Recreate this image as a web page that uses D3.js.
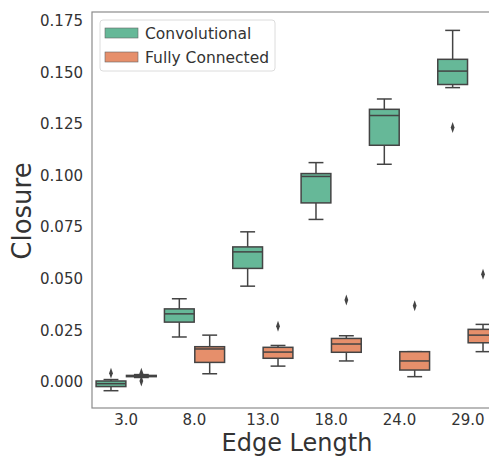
<!DOCTYPE html>
<html><head><meta charset="utf-8">
<script src="https://cdn.jsdelivr.net/npm/d3@7/dist/d3.min.js"></script>
<style>body{margin:0;background:#fff}svg{display:block}text{font-family:"DejaVu Sans",sans-serif;fill:#333}</style>
</head><body><svg id="c" width="489" height="456"></svg>
<script>
const categories = ["3.0","8.0","13.0","18.0","24.0","29.0"];
const seriesNames = ["Convolutional","Fully Connected"];
const yTicks = [0,0.025,0.05,0.075,0.1,0.125,0.15,0.175];
// box stats per category: [whiskerLow, q1, median, q3, whiskerHigh]
const convStats = [
  [-0.0042,-0.0022,-0.0008,0.0005,0.0012],
  [0.0218,0.0290,0.0330,0.0354,0.0403],
  [0.0464,0.0550,0.0630,0.0654,0.0727],
  [0.0787,0.0867,0.0995,0.1009,0.1062],
  [0.1054,0.1146,0.1290,0.1320,0.1370],
  [0.1425,0.1440,0.1505,0.1562,0.1702]
];
const convOutliers = [[0.0043],[],[],[],[],[0.1232]];
const fcStats = [
  [0.0022,0.0026,0.0029,0.0032,0.0036],
  [0.0040,0.0095,0.0160,0.0171,0.0227],
  [0.0077,0.0115,0.0145,0.0168,0.0177],
  [0.0102,0.0144,0.0184,0.0211,0.0224],
  [0.0026,0.0058,0.0102,0.0147,0.0147],
  [0.0147,0.0190,0.0227,0.0255,0.0279]
];
const fcOutliers = [[0.0043,0.0005],[],[0.0270],[0.0397],[0.0369],[0.0522]];
const colors = ["#66b898","#e68f6b"];
const lineColor = "#444";

const svg = d3.select("#c");
const L = 92, R = 502, T = 12, B = 408;
const x = d3.scaleBand().domain(categories).range([L,R]);
const y = d3.scaleLinear().domain([-0.01257,0.1791]).range([B,T]);
const hue = d3.scaleBand().domain(seriesNames).range([0, x.bandwidth()]).paddingOuter(0.125);

const series = [
  {name:seriesNames[0], stats:convStats, out:convOutliers, color:colors[0]},
  {name:seriesNames[1], stats:fcStats, out:fcOutliers, color:colors[1]}
];

// spines
svg.append("rect").attr("x",L).attr("y",T).attr("width",R-L).attr("height",B-T)
  .attr("fill","none").attr("stroke","#8c8c8c").attr("stroke-width",1.2);

const diamond = d3.symbol().type(d3.symbolDiamond).size(22);
series.forEach(s=>{
  const g = svg.append("g");
  categories.forEach((c,i)=>{
    const [lo,q1,md,q3,hi] = s.stats[i];
    const bw = hue.bandwidth()*0.98;
    const cx = x(c) + hue(s.name) + hue.bandwidth()/2;
    const capW = bw/2;
    const gg = g.append("g");
    gg.append("line").attr("x1",cx).attr("x2",cx).attr("y1",y(q3)).attr("y2",y(hi)).attr("stroke",lineColor).attr("stroke-width",1.5);
    gg.append("line").attr("x1",cx).attr("x2",cx).attr("y1",y(q1)).attr("y2",y(lo)).attr("stroke",lineColor).attr("stroke-width",1.5);
    gg.append("line").attr("x1",cx-capW/2).attr("x2",cx+capW/2).attr("y1",y(hi)).attr("y2",y(hi)).attr("stroke",lineColor).attr("stroke-width",1.5);
    gg.append("line").attr("x1",cx-capW/2).attr("x2",cx+capW/2).attr("y1",y(lo)).attr("y2",y(lo)).attr("stroke",lineColor).attr("stroke-width",1.5);
    gg.append("rect").attr("x",cx-bw/2).attr("width",bw).attr("y",y(q3)).attr("height",Math.max(0.5,y(q1)-y(q3)))
      .attr("fill",s.color).attr("stroke",lineColor).attr("stroke-width",1.5);
    gg.append("line").attr("x1",cx-bw/2).attr("x2",cx+bw/2).attr("y1",y(md)).attr("y2",y(md)).attr("stroke",lineColor).attr("stroke-width",1.5);
    s.out[i].forEach(v=>{
      gg.append("path").attr("d",diamond).attr("transform",`translate(${cx},${y(v)}) scale(0.75,1.25)`).attr("fill",lineColor);
    });
  });
});

// y ticks
yTicks.forEach(t=>{
  svg.append("text").attr("x",83).attr("y",y(t)).attr("dy","0.36em").attr("text-anchor","end")
    .attr("font-size",15).text(d3.format(".3f")(t));
});
// x ticks
categories.forEach(c=>{
  svg.append("text").attr("x",x(c)+x.bandwidth()/2).attr("y",425).attr("text-anchor","middle")
    .attr("font-size",15).text(c);
});
// axis labels
svg.append("text").attr("x",(L+R)/2).attr("y",451).attr("text-anchor","middle").attr("font-size",24).text("Edge Length");
svg.append("text").attr("transform","translate(31,211) rotate(-90)").attr("text-anchor","middle").attr("font-size",26).text("Closure");

// legend
const lg = svg.append("g");
lg.append("rect").attr("x",100).attr("y",20).attr("width",175).attr("height",51).attr("rx",3)
  .attr("fill","#fff").attr("fill-opacity",0.8).attr("stroke","#dcdcdc").attr("stroke-width",1);
series.forEach((s,i)=>{
  const cy = 33 + i*24;
  lg.append("rect").attr("x",105).attr("y",cy-5).attr("width",33).attr("height",10)
    .attr("fill",s.color).attr("stroke","#666").attr("stroke-width",0.6);
  lg.append("text").attr("x",145).attr("y",cy).attr("dy","0.36em").attr("font-size",15.5).text(s.name);
});
</script></body></html>
